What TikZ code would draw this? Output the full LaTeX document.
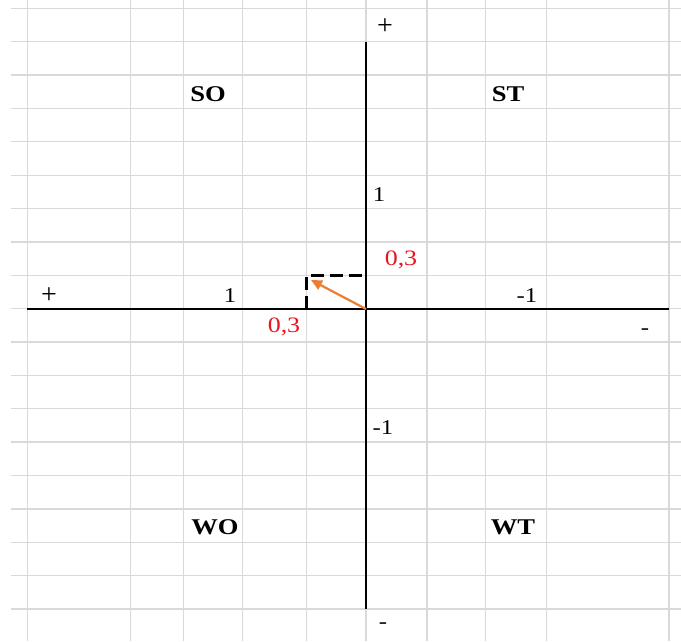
\documentclass[tikz,border=0pt]{standalone}
\usepackage{fontspec}
\setmainfont{Liberation Serif}
\usetikzlibrary{arrows.meta}
\definecolor{gridgray}{HTML}{D9D9D9}
\definecolor{labred}{HTML}{E8141E}
\definecolor{vecorange}{HTML}{ED7D31}
\newcommand{\wid}[1]{\scalebox{1.18}[1]{#1}}
\begin{document}
\begin{tikzpicture}[x=1pt,y=-1pt,
  gridline/.style={draw=gridgray,line width=1.3pt},
  axisline/.style={draw=black,line width=1.8pt},
  dashline/.style={draw=black,line width=3pt,dash pattern=on 13pt off 6pt},
  vec/.style={draw=vecorange,line width=2.2pt,-{Triangle[length=11pt,width=10pt]}},
  lab/.style={inner sep=0pt,font=\fontsize{21}{24}\selectfont},
  plus/.style={inner sep=0pt,font=\fontsize{28}{30}\selectfont},
  quad/.style={inner sep=0pt,font=\fontsize{22.5}{26}\selectfont\bfseries},
  val/.style={inner sep=0pt,text=labred,font=\fontsize{22}{25}\selectfont}]
\useasboundingbox (0,0) rectangle (681,641);
\fill[white] (0,0) rectangle (681,641);
% grid
\foreach \gx in {27.3,130.7,183.3,242.7,306.7,366,427,485.5,546.7,669}
  \draw[gridline] (\gx,0) -- (\gx,641);
\foreach \k in {0,...,18}
  \draw[gridline] (11,{8.3+33.37*\k}) -- (681,{8.3+33.37*\k});
% axes
\coordinate (xl) at (27.3,309);
\coordinate (xr) at (669,309);
\coordinate (yt) at (366,41.7);
\coordinate (yb) at (366,609);
\coordinate (o) at (366,309);
\draw[axisline] (xl) -- (xr);
\draw[axisline] (yt) -- (yb);
% dashed projection
\coordinate (px) at (306,309);
\coordinate (pc) at (306,275.5);
\coordinate (py) at (366,275.5);
\draw[dashline] (px) -- (pc) -- (py);
% vector
\coordinate (tip) at (311,280);
\draw[vec] (o) -- (tip);
% labels
\node[plus] (ptop) at (385,27) {+};
\node[plus] (pleft) at (49,296) {+};
\node[lab] (oneup) at (379,195) {\wid{1}};
\node[lab] (oneleft) at (230,296) {\wid{1}};
\node[lab] (mright) at (527,296) {\wid{-1}};
\node[lab] (mdown) at (383,428) {\wid{-1}};
\node[lab] (minr) at (645,332) {\wid{-}};
\node[lab] (minb) at (383,626) {\wid{-}};
\node[quad] (so) at (208,94) {\wid{SO}};
\node[quad] (st) at (508,94) {\wid{ST}};
\node[quad] (wo) at (215,527) {\wid{WO}};
\node[quad] (wt) at (513,527) {\wid{WT}};
\node[val] (vy) at (401,260) {\wid{0,3}};
\node[val] (vx) at (284,327) {\wid{0,3}};
\end{tikzpicture}
\end{document}
